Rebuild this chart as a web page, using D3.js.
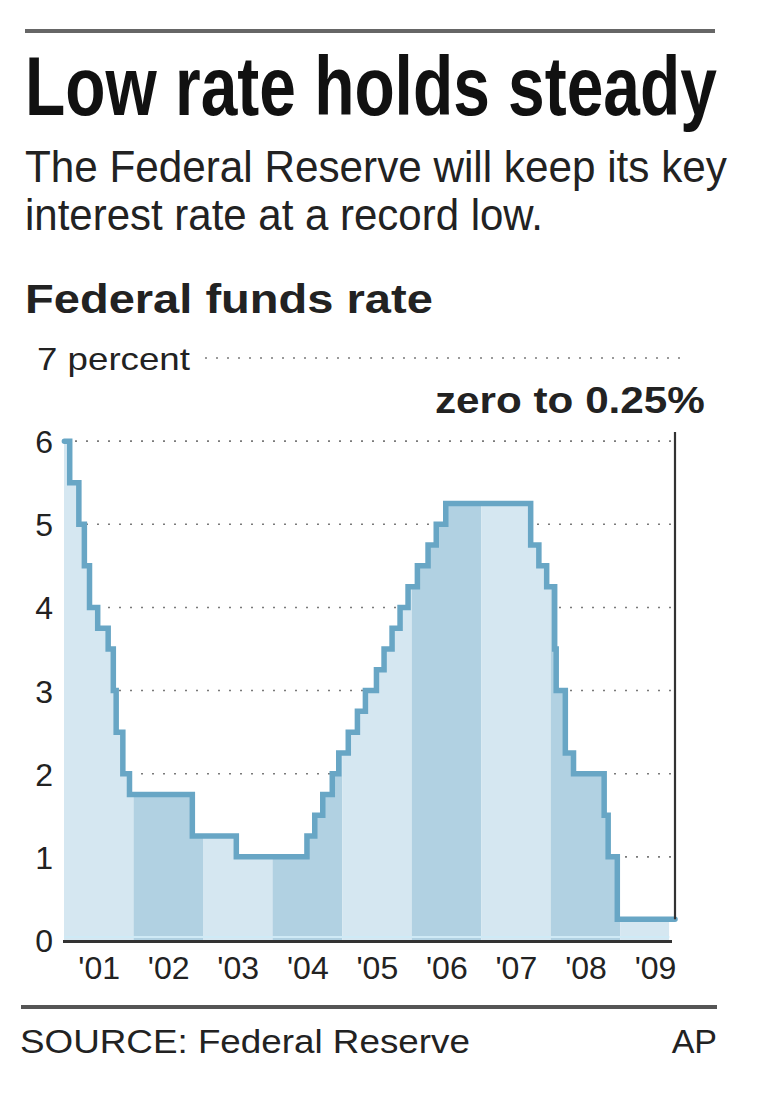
<!DOCTYPE html>
<html>
<head>
<meta charset="utf-8">
<script src="https://cdn.jsdelivr.net/npm/d3@7"></script>
<style>
  html, body { margin: 0; padding: 0; background: #fff; }
  svg { display: block; }
  text { font-family: "Liberation Sans", Arial, Helvetica, sans-serif; }
</style>
</head>
<body>
<svg id="chart" width="760" height="1099"></svg>
<script>
// ---- Data ----
const changeDates = [
  "2001-01-03","2001-01-31","2001-03-20","2001-04-18","2001-05-15","2001-06-27","2001-08-21",
  "2001-09-17","2001-10-02","2001-11-06","2001-12-11","2002-11-06","2003-06-25","2004-06-30",
  "2004-08-10","2004-09-21","2004-11-10","2004-12-14","2005-02-02","2005-03-22","2005-05-03",
  "2005-06-30","2005-08-09","2005-09-20","2005-11-01","2005-12-13","2006-01-31","2006-03-28",
  "2006-05-10","2006-06-29","2007-09-18","2007-10-31","2007-12-11","2008-01-22","2008-01-30",
  "2008-03-18","2008-04-30","2008-10-08","2008-10-29","2008-12-16","2009-09-15"
];
const rates = [
  6.00,5.50,5.00,4.50,4.00,3.75,3.50,
  3.00,2.50,2.00,1.75,1.25,1.00,1.25,
  1.50,1.75,2.00,2.25,2.50,2.75,3.00,
  3.25,3.50,3.75,4.00,4.25,4.50,4.75,
  5.00,5.25,4.75,4.50,4.25,3.50,3.00,
  2.25,2.00,1.50,1.00,0.25,0.25
];
const years = [2001,2002,2003,2004,2005,2006,2007,2008,2009];
const yearLabels = ["'01","'02","'03","'04","'05","'06","'07","'08","'09"];
const yTicks = [0,1,2,3,4,5,6];
const yTopTick = 7;
const yTopLabel = "7 percent";
const currentLabel = "zero to 0.25%";
const title = "Low rate holds steady";
const subtitle = ["The Federal Reserve will keep its key", "interest rate at a record low."];
const chartTitle = "Federal funds rate";
const source = "SOURCE: Federal Reserve";
const credit = "AP";

// ---- Setup ----
const parse = d3.timeParse("%Y-%m-%d");
const data = changeDates.map((d, i) => ({ date: parse(d), value: rates[i] }));
const svg = d3.select("#chart");
svg.append("rect").attr("width", 760).attr("height", 1099).attr("fill", "#fff");

const x = d3.scaleTime()
  .domain([new Date(2001, 0, 1), new Date(2009, 9, 15)])
  .range([64, 675]);
const y = d3.scaleLinear().domain([0, 7]).range([940, 358]);

const colLine = "#68a6c5";
const colLight = "#d5e7f1";
const colDark = "#b1d1e2";
const colGrid = "#7a7a7a";
const colText = "#222";

// fit a text horizontally by scaling (keeps its glyph height)
function fitWidth(sel, x0, yb, width) {
  const w = sel.node().getComputedTextLength();
  const s = w > 0 ? width / w : 1;
  sel.attr("x", 0).attr("y", 0)
    .attr("transform", `translate(${x0},${yb}) scale(${s},1)`);
}

// ---- Header ----
svg.append("rect").attr("x", 25).attr("y", 29).attr("width", 690).attr("height", 4).attr("fill", "#666");
const t1 = svg.append("text")
  .attr("font-family", "'Liberation Sans Narrow', 'Arial Narrow', 'Liberation Sans', Arial, sans-serif")
  .attr("font-weight", "bold").attr("font-size", 84).attr("fill", "#111")
  .text(title);
fitWidth(t1, 25, 115, 692);
const s1 = svg.append("text").attr("font-size", 44).attr("fill", colText).text(subtitle[0]);
fitWidth(s1, 25, 182, 702);
const s2 = svg.append("text").attr("font-size", 44).attr("fill", colText).text(subtitle[1]);
fitWidth(s2, 25, 230, 518);
const ct = svg.append("text").attr("font-size", 40).attr("font-weight", "bold").attr("fill", colText).text(chartTitle);
fitWidth(ct, 25, 313, 408);

// ---- Gridlines ----
const grid = svg.append("g");
grid.selectAll("line.g").data(yTicks.filter(v => v > 0)).join("line")
  .attr("x1", x.range()[0]).attr("x2", x.range()[1])
  .attr("y1", d => y(d)).attr("y2", d => y(d))
  .attr("stroke", colGrid).attr("stroke-width", 1.6).attr("stroke-dasharray", "2,9");

const topLbl = svg.append("text").attr("font-size", 32).attr("fill", colText).text(yTopLabel);
fitWidth(topLbl, 37, y(yTopTick) + 12, 153);
grid.append("line")
  .attr("x1", 205).attr("x2", x.range()[1] + 12)
  .attr("y1", y(yTopTick)).attr("y2", y(yTopTick))
  .attr("stroke", colGrid).attr("stroke-width", 1.6).attr("stroke-dasharray", "2,9");

// ---- Area fill (year bands clipped by the step area) ----
const area = d3.area().curve(d3.curveStepAfter)
  .x(d => x(d.date)).y0(y(0)).y1(d => y(d.value));
const areaData = [{ date: new Date(2001, 0, 1), value: data[0].value }].concat(data);
svg.append("clipPath").attr("id", "areaClip").append("path").attr("d", area(areaData));

const endDate = data[data.length - 1].date;
svg.append("g").attr("clip-path", "url(#areaClip)")
  .selectAll("rect").data(years).join("rect")
  .attr("x", d => x(new Date(d, 0, 1)))
  .attr("width", d => Math.min(x(new Date(d + 1, 0, 1)), x(endDate)) - x(new Date(d, 0, 1)))
  .attr("y", y(7)).attr("height", y(0) - y(7))
  .attr("fill", (d, i) => i % 2 === 0 ? colLight : colDark);

// thin pale line along the bottom of the fill
svg.append("line")
  .attr("x1", x.range()[0]).attr("x2", x(endDate))
  .attr("y1", y(0) - 3).attr("y2", y(0) - 3)
  .attr("stroke", "#cfeaf6").attr("stroke-width", 2);

// ---- Step line ----
const lineData = data.concat([{ date: x.domain()[1], value: data[data.length - 1].value }]);
const line = d3.line().curve(d3.curveStepAfter).x(d => x(d.date)).y(d => y(d.value));
svg.append("path").attr("d", line(lineData))
  .attr("fill", "none").attr("stroke", colLine).attr("stroke-width", 5.5)
  .attr("stroke-linejoin", "miter").attr("stroke-linecap", "round");

// ---- Right "current value" marker line ----
svg.append("line")
  .attr("x1", x.range()[1]).attr("x2", x.range()[1])
  .attr("y1", y(6.11)).attr("y2", y(0.25))
  .attr("stroke", "#333").attr("stroke-width", 2.2);
const cl = svg.append("text").attr("font-size", 37).attr("font-weight", "bold").attr("fill", colText).text(currentLabel);
fitWidth(cl, 435, 413, 270);

// ---- Axes ----
const yAxis = svg.append("g").attr("transform", `translate(${x.range()[0]},0)`)
  .call(d3.axisLeft(y).tickValues(yTicks).tickSize(0).tickPadding(11).tickFormat(d3.format("d")));
yAxis.select(".domain").remove();
yAxis.selectAll("text").attr("font-size", 32).attr("fill", colText)
  .attr("font-family", "'Liberation Sans', Arial, sans-serif").attr("dy", "0.36em");

svg.append("line")
  .attr("x1", x.range()[0] - 1).attr("x2", x.range()[1] - 3)
  .attr("y1", y(0) + 1.5).attr("y2", y(0) + 1.5)
  .attr("stroke", "#333").attr("stroke-width", 3);

const xAxis = svg.append("g").attr("transform", `translate(0,${y(0)})`)
  .call(d3.axisBottom(x)
    .tickValues(years.map(yr => new Date(yr, 6, 2)))
    .tickSize(0).tickPadding(16)
    .tickFormat((d, i) => yearLabels[i]));
xAxis.select(".domain").remove();
xAxis.selectAll("text").attr("font-size", 32).attr("fill", colText)
  .attr("font-family", "'Liberation Sans', Arial, sans-serif");

// ---- Footer ----
svg.append("rect").attr("x", 21).attr("y", 1005).attr("width", 696).attr("height", 4).attr("fill", "#555");
const src = svg.append("text").attr("font-size", 34).attr("fill", colText).text(source);
fitWidth(src, 20, 1053, 450);
svg.append("text").attr("x", 717).attr("y", 1053).attr("text-anchor", "end")
  .attr("font-size", 34).attr("fill", colText)
  .text(credit);
</script>
</body>
</html>
